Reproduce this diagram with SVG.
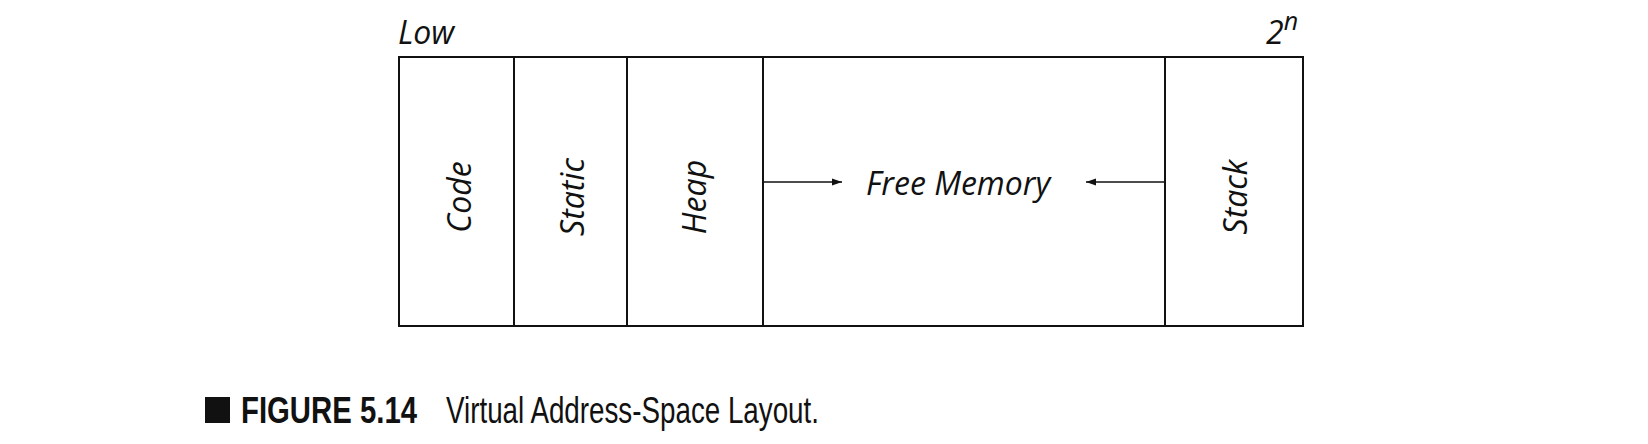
<svg xmlns="http://www.w3.org/2000/svg" width="1648" height="444" viewBox="0 0 1648 444">
<style>
.l{font-family:"Open Sans","Noto Sans",sans-serif;font-style:italic;font-weight:400;font-size:32px;fill:#111}
.b{fill:#fff;stroke:#111;stroke-width:2}
.c{stroke:#111;stroke-width:1.6;fill:none}
</style>
<defs><marker id="ah" viewBox="0 0 10 10" refX="10" refY="5" markerWidth="10" markerHeight="10" markerUnits="userSpaceOnUse" orient="auto"><path d="M0,1.5L10,5L0,8.5z" fill="#111"/></marker></defs>
<rect width="1648" height="444" fill="#fff"/>
<text class="l" x="398" y="44">Low</text>
<text class="l" x="1266" y="44">2<tspan dy="-14" font-size="25">n</tspan></text>
<g id="code"><rect class="b" x="399" y="57" width="115" height="269" stroke-width="2.5"/><text class="l" text-anchor="middle" transform="translate(471,197) rotate(-90)">Code</text></g>
<g id="static"><rect class="b" x="514" y="57" width="113" height="269" stroke-width="2.5"/><text class="l" text-anchor="middle" transform="translate(584,197) rotate(-90)">Static</text></g>
<g id="heap"><rect class="b" x="627" y="57" width="136" height="269"/><text class="l" text-anchor="middle" transform="translate(706,197) rotate(-90)">Heap</text></g>
<g id="free"><rect class="b" x="763" y="57" width="402" height="269"/><text class="l" x="866" y="195">Free Memory</text></g>
<g id="stack"><rect class="b" x="1165" y="57" width="138" height="269"/><text class="l" text-anchor="middle" transform="translate(1247,197) rotate(-90)">Stack</text></g>
<g id="connectors">
<line class="c" x1="763" y1="182" x2="842" y2="182" marker-end="url(#ah)"/>
<line class="c" x1="1165" y1="182" x2="1086" y2="182" marker-end="url(#ah)"/>
</g>
<g id="caption">
<rect x="205" y="397" width="25" height="26" fill="#111"/>
<text x="241" y="423" font-family="Liberation Sans,Arial,sans-serif" font-weight="bold" font-size="36" textLength="176" lengthAdjust="spacingAndGlyphs" fill="#111">FIGURE 5.14</text>
<text x="446" y="423" font-family="Liberation Sans,Arial,sans-serif" font-size="36" textLength="373" lengthAdjust="spacingAndGlyphs" fill="#111">Virtual Address-Space Layout.</text>
</g>
</svg>
